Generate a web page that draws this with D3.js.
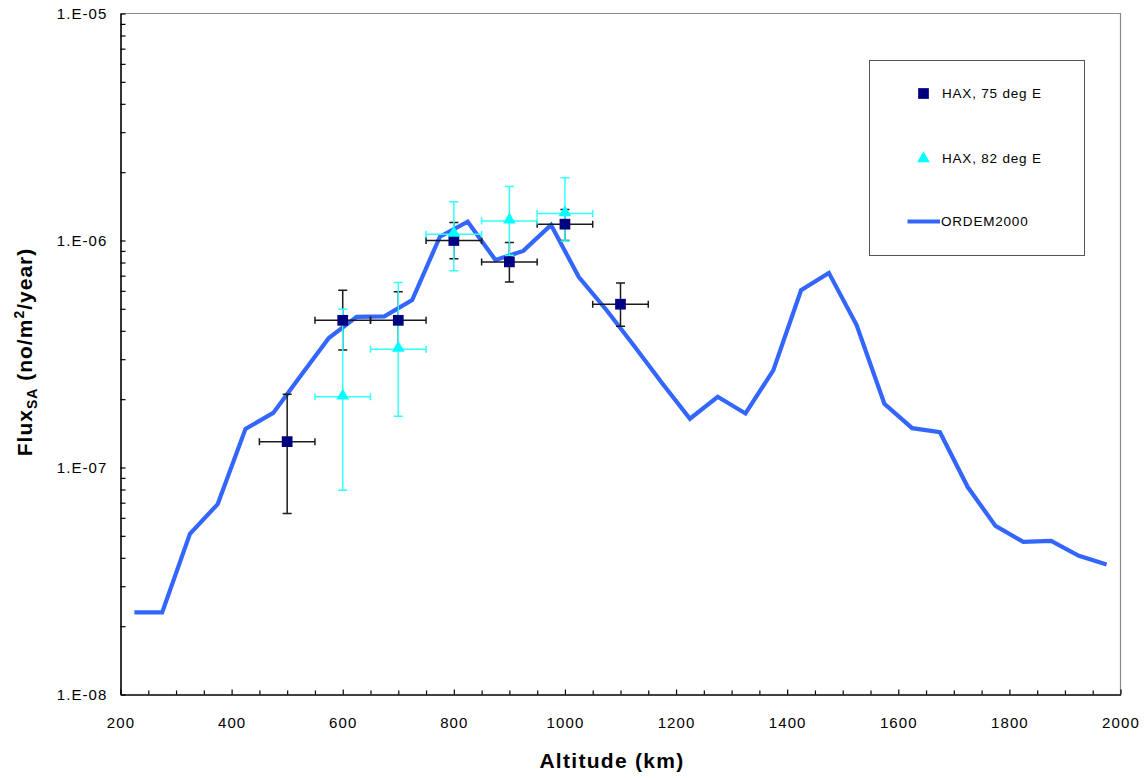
<!DOCTYPE html>
<html><head><meta charset="utf-8">
<script src="https://cdn.jsdelivr.net/npm/d3@7"></script>
<style>body{margin:0;background:#fff}svg{display:block}text{font-family:Arial,"Liberation Sans",sans-serif}</style>
</head><body><svg id="c" width="1148" height="778"></svg>
<script>
// ORDEM2000 model curve
const ordemAlt = [225,275,325,375,425,475,525,575,625,675,725,775,825,875,925,975,1025,1075,1125,1175,1225,1275,1325,1375,1425,1475,1525,1575,1625,1675,1725,1775,1825,1875,1925,1975];
const ordemFlux = [2.3e-8,2.3e-8,5.1e-8,6.9e-8,1.48e-7,1.74e-7,2.55e-7,3.72e-7,4.61e-7,4.63e-7,5.46e-7,1.04e-6,1.21e-6,8.2e-7,9.0e-7,1.17e-6,6.9e-7,4.93e-7,3.42e-7,2.35e-7,1.64e-7,2.05e-7,1.73e-7,2.68e-7,6.04e-7,7.2e-7,4.24e-7,1.91e-7,1.49e-7,1.43e-7,8.2e-8,5.53e-8,4.7e-8,4.75e-8,4.08e-8,3.74e-8];
// HAX, 75 deg E
const hax75Alt = [500,600,700,800,900,1000,1100];
const hax75Flux = [1.30e-7,4.45e-7,4.45e-7,1.0e-6,8.05e-7,1.18e-6,5.24e-7];
const hax75Hi = [2.10e-7,6.04e-7,5.94e-7,1.2e-6,9.8e-7,1.37e-6,6.5e-7];
const hax75Lo = [6.27e-8,3.29e-7,3.3e-7,8.3e-7,6.57e-7,1.0e-6,4.19e-7];
// HAX, 82 deg E
const hax82Alt = [600,700,800,900,1000];
const hax82Flux = [2.05e-7,3.32e-7,1.066e-6,1.22e-6,1.315e-6];
const hax82Hi = [4.98e-7,6.53e-7,1.48e-6,1.73e-6,1.89e-6];
const hax82Lo = [7.94e-8,1.68e-7,7.35e-7,8.6e-7,9.95e-7];
const altErr = 50;
// ticks
const yMajor = [1e-8,1e-7,1e-6,1e-5];
const yMajorLabels = ["1.E-08","1.E-07","1.E-06","1.E-05"];
const xMajor = [200,400,600,800,1000,1200,1400,1600,1800,2000];
const seriesNames = ["HAX, 75 deg E","HAX, 82 deg E","ORDEM2000"];

const svg = d3.select("#c");
const L=120.5, R=1120.5, T=13.5, B=694.5;
const x = d3.scaleLinear().domain([200,2000]).range([L,R]);
const y = d3.scaleLog().domain([1e-8,1e-5]).range([B,T]);

// plot border (top/right gray)
svg.append("path").attr("d",`M${L},${T}H${R}V${B}`).attr("fill","none").attr("stroke","#888").attr("stroke-width",1.2);

// minor ticks
const yMinor=[];
for(let d=-8; d<-5; d++) for(let m=2;m<=9;m++) yMinor.push(m*Math.pow(10,d));
svg.append("g").attr("transform",`translate(${L},0)`)
  .call(d3.axisLeft(y).tickValues(yMinor).tickSize(-5).tickFormat(""))
  .call(g=>{g.select(".domain").remove(); g.selectAll("line").attr("stroke","#000").attr("stroke-width",1.2);});
const xMinor=d3.range(250,2000,50).filter(v=>v%200!==0);
svg.append("g").attr("transform",`translate(0,${B})`)
  .call(d3.axisBottom(x).tickValues(xMinor).tickSize(-4).tickFormat(""))
  .call(g=>{g.select(".domain").remove(); g.selectAll("line").attr("stroke","#000").attr("stroke-width",1.2);});

// major axes
const yAx = svg.append("g").attr("transform",`translate(${L},0)`)
  .call(d3.axisLeft(y).tickValues(yMajor).tickSize(-5).tickPadding(13).tickSizeOuter(0).tickFormat((d,i)=>yMajorLabels[i]));
yAx.select(".domain").attr("stroke","#000").attr("stroke-width",1.6);
yAx.selectAll("line").attr("stroke","#000").attr("stroke-width",1.2);
yAx.selectAll("text").attr("font-size",15).attr("letter-spacing","1.1px").attr("fill","#000").attr("dy","0.3em").attr("font-family","Arial,'Liberation Sans',sans-serif");

const xAx = svg.append("g").attr("transform",`translate(0,${B})`)
  .call(d3.axisBottom(x).tickValues(xMajor).tickSize(-5).tickPadding(0).tickSizeOuter(0).tickFormat(d3.format("d")));
xAx.select(".domain").attr("stroke","#000").attr("stroke-width",1.6);
xAx.selectAll("line").attr("stroke","#000").attr("stroke-width",1.2);
xAx.selectAll("text").attr("font-size",15).attr("letter-spacing","1.1px").attr("fill","#000").attr("y",33).attr("dy",0).attr("font-family","Arial,'Liberation Sans',sans-serif");

// ORDEM line
svg.append("path").datum(ordemAlt.map((a,i)=>[a,ordemFlux[i]]))
  .attr("d", d3.line().x(d=>x(d[0])).y(d=>y(d[1])))
  .attr("fill","none").attr("stroke","#3366FF").attr("stroke-width",4.2).attr("stroke-linejoin","miter");

function errBars(alts, flux, hi, lo, color){
  const g = svg.append("g").attr("stroke",color).attr("stroke-width",1.5).attr("fill","none");
  alts.forEach((a,i)=>{
    const cx=x(a), cy=y(flux[i]), yh=y(hi[i]), yl=y(lo[i]), xl=x(a-altErr), xr=x(a+altErr);
    g.append("path").attr("d",`M${cx},${yh}V${yl}M${cx-4.5},${yh}H${cx+4.5}M${cx-4.5},${yl}H${cx+4.5}`);
    g.append("path").attr("d",`M${xl},${cy}H${xr}M${xl},${cy-3.5}V${cy+3.5}M${xr},${cy-3.5}V${cy+3.5}`);
  });
}
errBars(hax75Alt,hax75Flux,hax75Hi,hax75Lo,"#1a1a1a");
errBars(hax82Alt,hax82Flux,hax82Hi,hax82Lo,"#33FFFF");

const sq = d3.symbol().type(d3.symbolSquare).size(115);
const tri = d3.symbol().type(d3.symbolTriangle).size(70);
svg.append("g").selectAll("path").data(hax75Alt).join("path")
  .attr("d",sq).attr("transform",(d,i)=>`translate(${x(d)},${y(hax75Flux[i])})`).attr("fill","#000080");
svg.append("g").selectAll("path").data(hax82Alt).join("path")
  .attr("d",tri).attr("transform",(d,i)=>`translate(${x(d)},${y(hax82Flux[i])-1})`).attr("fill","#00FFFF");

// legend
const lg = svg.append("g");
lg.append("rect").attr("x",869.5).attr("y",60.5).attr("width",215).attr("height",195).attr("fill","#fff").attr("stroke","#555").attr("stroke-width",1);
lg.append("path").attr("d",sq).attr("transform","translate(923.5,93.5)").attr("fill","#000080");
lg.append("path").attr("d",tri).attr("transform","translate(923.5,158.5)").attr("fill","#00FFFF");
lg.append("line").attr("x1",907.5).attr("x2",940).attr("y1",221.5).attr("y2",221.5).attr("stroke","#3366FF").attr("stroke-width",4.2);
[98,163,226].forEach((yy,i)=>{
  lg.append("text").attr("x",i===2?941:942).attr("y",yy).attr("font-size",13.5).attr("letter-spacing","0.8px").text(seriesNames[i]);
});

// axis titles
svg.append("text").attr("x",612).attr("y",768).attr("text-anchor","middle").attr("font-size",21).attr("font-weight","bold").attr("letter-spacing","1.3px").text("Altitude (km)");
const yt = svg.append("text").attr("transform","translate(32,352) rotate(-90)").attr("text-anchor","middle").attr("font-size",21).attr("font-weight","bold").attr("letter-spacing","1px");
yt.append("tspan").text("Flux");
yt.append("tspan").attr("font-size",14).attr("dy",5).text("SA");
yt.append("tspan").attr("dy",-5).text(" (no/m");
yt.append("tspan").attr("font-size",14).attr("dy",-8).text("2");
yt.append("tspan").attr("dy",8).text("/year)");
</script></body></html>
